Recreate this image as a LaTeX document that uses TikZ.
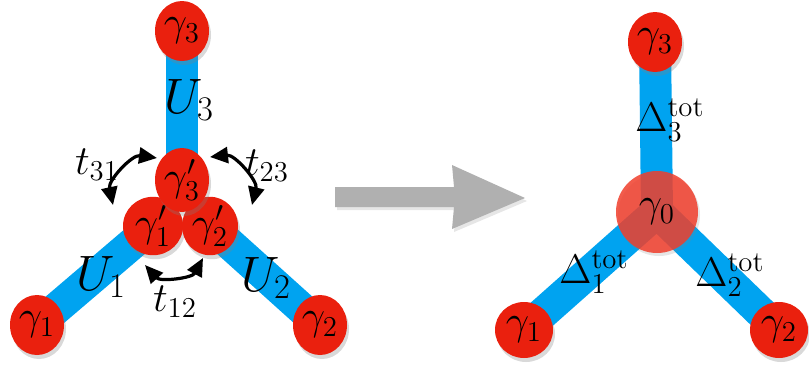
\documentclass[tikz,border=0pt]{standalone}
\usepackage{amsmath}
\usepackage{tikz}
\usetikzlibrary{shapes.geometric,shadows,backgrounds,arrows.meta}
\definecolor{dotred}{RGB}{234,32,14}
\definecolor{hubred}{RGB}{240,62,44}
\definecolor{barblue}{RGB}{0,163,240}
\definecolor{movegray}{RGB}{176,176,176}
\tikzset{
  site/.style={ellipse, fill=dotred, inner sep=0pt, minimum width=27pt, minimum height=30pt,
    drop shadow={shadow xshift=1pt, shadow yshift=-2pt, opacity=0.3}},
  bar/.style={line width=16pt, barblue},
  hop/.style={line width=1.6pt, black, {Triangle[length=9pt,width=8pt]}-{Triangle[length=9pt,width=8pt]}},
}
\begin{document}
\begin{tikzpicture}[x=0.5pt, y=-0.5pt, font=\fontsize{22}{26}\selectfont]
	\useasboundingbox (0,0) rectangle (809,381);
	%%% left: three leads coupled through three dots
	\node[site] (g1) at (37,325) {$\gamma_1$};
	\node[site] (g2) at (320,325) {$\gamma_2$};
	\node[site] (g3) at (182,31) {$\gamma_3$};
	\node[site, minimum width=30pt, minimum height=29pt] (g1p) at (153,226) {$\gamma_1'$};
	\node[site, minimum width=28pt, minimum height=29pt] (g2p) at (210,226) {$\gamma_2'$};
	\node[site, minimum height=32pt] (g3p) at (182,180) {$\gamma_3'$};
	\begin{scope}[on background layer]
	\draw[bar] (g1p.center) -- (g1.center);
	\draw[bar] (g2p.center) -- (g2.center);
	\draw[bar] (g3p.center) -- (g3.center);
	\end{scope}
	\node[font=\fontsize{23}{27}\selectfont] (u1) at (101,277) {$U_1$};
	\node[font=\fontsize{23}{27}\selectfont] (u2) at (266,278) {$U_2$};
	\node[font=\fontsize{23}{27}\selectfont] (u3) at (189,100) {$U_3$};
	\coordinate (h31a) at (157,158);
	\coordinate (h31b) at (113,205);
	\coordinate (h23a) at (210,157);
	\coordinate (h23b) at (252,205);
	\coordinate (h12a) at (145,265);
	\coordinate (h12b) at (203,258);
	\draw[hop] (h31a) to[bend right=55] (h31b);
	\draw[hop] (h23a) to[bend left=55] (h23b);
	\draw[hop] (h12a) to[bend right=55] (h12b);
	\node (t31) at (97,165) {$t_{31}$};
	\node (t23) at (267,166) {$t_{23}$};
	\node (t12) at (175,302) {$t_{12}$};
	%%% big arrow
	\fill[movegray, drop shadow={shadow xshift=1pt, shadow yshift=-1.5pt, opacity=0.2}]
	(335,187) -- (454,187) -- (452,165) -- (525,198) -- (452,229) -- (454,207) -- (335,207) -- cycle;
	%%% right: leads coupled to one effective dot
	\node[site, minimum width=29pt, minimum height=28pt] (r1) at (524,330) {$\gamma_1$};
	\node[site, minimum width=29pt, minimum height=28pt] (r2) at (779,330) {$\gamma_2$};
	\node[site] (r3) at (655,42) {$\gamma_3$};
	\node[circle, fill=hubred, fill opacity=0.85, text opacity=1, minimum size=41pt, inner sep=0pt,
	drop shadow={shadow xshift=1pt, shadow yshift=-1.5pt, opacity=0.2}] (r0) at (657,212) {$\gamma_0$};
	\begin{scope}[on background layer]
	\draw[bar] (r0.center) -- (r1.center);
	\draw[bar] (r0.center) -- (r2.center);
	\draw[bar] (r0.center) -- (r3.center);
	\end{scope}
	\node (d1) at (594,272) {$\Delta_1^{\mathrm{tot}}$};
	\node (d2) at (730,275) {$\Delta_2^{\mathrm{tot}}$};
	\node (d3) at (670,120) {$\Delta_3^{\mathrm{tot}}$};
\end{tikzpicture}
\end{document}
